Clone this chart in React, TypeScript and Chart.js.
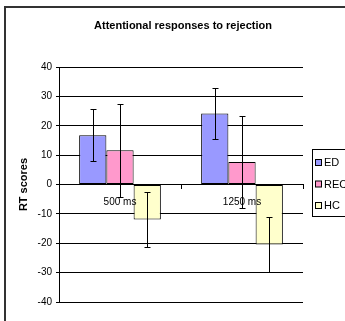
import React, { useEffect, useRef } from "react";
import { Chart, registerables } from "chart.js";

Chart.register(...registerables);

const chartTitle = "Attentional responses to rejection";
const yAxisTitle = "RT scores";
const categories = ["500 ms", "1250 ms"];
const seriesNames = ["ED", "REC", "HC"];
const seriesColors = ["#9999FF", "#FF99CC", "#FFFFCC"];
const edValues = [16.8, 24.2];
const recValues = [11.7, 7.7];
const hcValues = [-11.9, -20.4];
const edErrors = [8.8, 8.7];
const recErrors = [15.8, 15.6];
const hcErrors = [9.5, 9.5];
const yTickMin = -40;
const yTickMax = 40;
const yTickStep = 10;

const FONT = "'Liberation Sans', Arial, sans-serif";

const errorBarPlugin = {
  id: "errorBars",
  afterDatasetsDraw(chart: any) {
    const ctx = chart.ctx;
    const yScale = chart.scales.y;
    ctx.save();
    ctx.strokeStyle = "#000";
    ctx.lineWidth = 1;
    chart.data.datasets.forEach((ds: any, i: number) => {
      const meta = chart.getDatasetMeta(i);
      meta.data.forEach((bar: any, j: number) => {
        const v = ds.data[j];
        const e = ds.errors[j];
        const x = Math.round(bar.x) + 0.5;
        const yTop = Math.round(yScale.getPixelForValue(v + e)) + 0.5;
        const yBot = Math.round(yScale.getPixelForValue(v - e)) + 0.5;
        ctx.beginPath();
        ctx.moveTo(x, yTop);
        ctx.lineTo(x, yBot);
        ctx.moveTo(x - 3, yTop);
        ctx.lineTo(x + 3, yTop);
        ctx.moveTo(x - 3, yBot);
        ctx.lineTo(x + 3, yBot);
        ctx.stroke();
      });
    });
    ctx.restore();
  },
};

const titleLegendPlugin = {
  id: "titleLegend",
  afterDraw(chart: any) {
    const ctx = chart.ctx;
    ctx.save();
    ctx.fillStyle = "#000";
    ctx.font = `bold 11px ${FONT}`;
    ctx.textAlign = "center";
    ctx.textBaseline = "middle";
    ctx.fillText(chartTitle, 183, 26);

    // legend
    ctx.strokeStyle = "#000";
    ctx.lineWidth = 1;
    ctx.strokeRect(312.5, 149.5, 45, 67);
    ctx.font = `11px ${FONT}`;
    ctx.textAlign = "left";
    const rowY = [163, 184.5, 206];
    chart.data.datasets.forEach((ds: any, i: number) => {
      const cy = rowY[i];
      ctx.fillStyle = ds.backgroundColor;
      ctx.fillRect(315.5, cy - 3.5, 6, 6);
      ctx.strokeRect(315.5, cy - 3.5, 6, 6);
      ctx.fillStyle = "#000";
      ctx.fillText(ds.label, 324, cy);
    });
    ctx.restore();
  },
};

export default function App() {
  const canvasRef = useRef<HTMLCanvasElement | null>(null);

  useEffect(() => {
    if (!canvasRef.current) return;
    const values = [edValues, recValues, hcValues];
    const errors = [edErrors, recErrors, hcErrors];
    const chart = new Chart(canvasRef.current, {
      type: "bar",
      data: {
        labels: categories,
        datasets: seriesNames.map((name, i) => ({
          label: name,
          data: values[i],
          errors: errors[i],
          backgroundColor: seriesColors[i],
          borderColor: "#000",
          borderWidth: 1,
          borderSkipped: false,
          categoryPercentage: 0.67,
          barPercentage: 1,
        })) as any,
      },
      options: {
        animation: false,
        responsive: false,
        events: [],
        layout: { padding: { top: 67, right: 42, bottom: 19, left: 0 } },
        plugins: {
          legend: { display: false },
          title: { display: false },
          tooltip: { enabled: false },
        },
        scales: {
          x: {
            type: "category",
            position: { y: 0 } as any,
            grid: {
              drawOnChartArea: false,
              offset: true,
              tickLength: 4,
              color: "#000",
              z: 1,
            },
            border: { color: "#000", width: 1, z: 1 },
            ticks: {
              color: "#000",
              font: { family: FONT, size: 10 },
              padding: 8,
              maxRotation: 0,
              z: 2,
            },
          },
          y: {
            min: yTickMin,
            max: yTickMax,
            afterFit(scale: any) {
              scale.width = 59;
            },
            ticks: {
              stepSize: yTickStep,
              color: "#000",
              font: { family: FONT, size: 10 },
              padding: 4,
            },
            grid: { color: "#000", tickLength: 3, lineWidth: 1 },
            border: { color: "#000", width: 1 },
            title: {
              display: true,
              text: yAxisTitle,
              color: "#000",
              font: { family: FONT, size: 11, weight: "bold" },
              padding: { top: 17, bottom: 0 },
            },
          },
        },
      },
      plugins: [errorBarPlugin, titleLegendPlugin],
    });
    return () => chart.destroy();
  }, []);

  return (
    <div style={{ position: "absolute", left: 0, top: 0, width: 345, height: 321, overflow: "hidden", background: "#fff" }}>
      <canvas ref={canvasRef} width={345} height={321} style={{ position: "absolute", left: 0, top: 0 }} />
      <div
        style={{
          position: "absolute",
          left: 4,
          top: 6,
          width: 400,
          height: 400,
          borderLeft: "2px solid #333",
          borderTop: "2px solid #333",
          pointerEvents: "none",
        }}
      />
    </div>
  );
}
